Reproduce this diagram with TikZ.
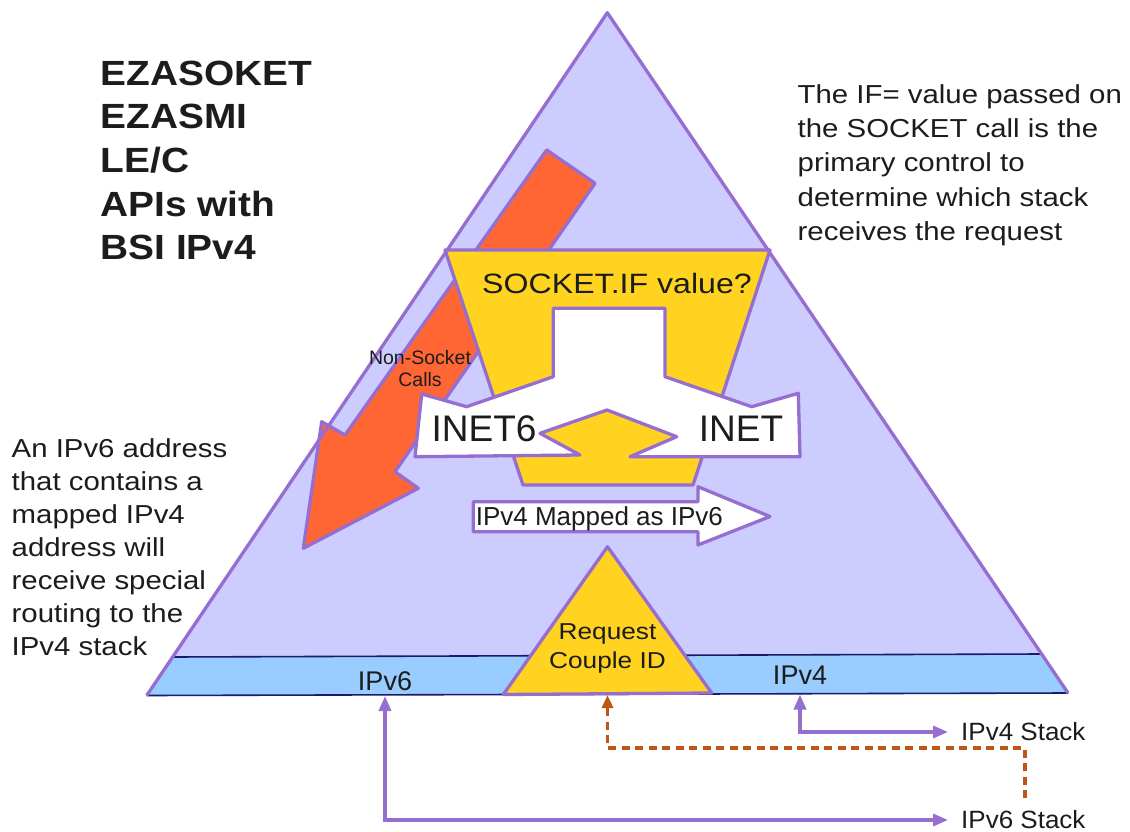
\documentclass[tikz,border=0pt]{standalone}
\usepackage{fontspec}
\setmainfont{Liberation Sans}
\usepackage{graphicx}
\usetikzlibrary{arrows.meta}
\definecolor{lav}{RGB}{204,204,255}
\definecolor{purp}{RGB}{150,110,208}
\definecolor{bandblue}{RGB}{153,204,255}
\definecolor{navy}{RGB}{25,25,110}
\definecolor{yel}{RGB}{255,211,32}
\definecolor{org}{RGB}{255,102,51}
\definecolor{brn}{RGB}{192,86,22}
\definecolor{txtdark}{RGB}{28,28,28}
\newcommand{\hs}[2]{\scalebox{#1}[1]{#2}}
\newcommand{\fs}[2]{\fontsize{#1}{#2}\selectfont}
\begin{document}
\begin{tikzpicture}[x=1pt,y=-1pt,
  outl/.style={draw=purp, line width=3.3pt, line join=round},
  txt/.style={inner sep=0pt, text=txtdark},
  conn/.style={draw=purp, line width=3.3pt, arrows={Triangle[length=15pt,width=12pt]-Triangle[length=15pt,width=12pt]}},
  dashconn/.style={draw=brn, line width=3.6pt, dash pattern=on 8pt off 5.5pt, arrows={-Triangle[length=13pt,width=11pt]}},
  bandline/.style={draw=navy, line width=1.6pt}]
\useasboundingbox (0,0) rectangle (1130,832);
\fill[white] (0,0) rectangle (1130,832);

% big triangle
\coordinate (apex) at (607.3,12.7);
\coordinate (bl) at (146.7,695.5);
\coordinate (br) at (1068,693);
\fill[lav] (apex) -- (bl) -- (br) -- cycle;

% orange arrow
\filldraw[fill=org, outl] (546.7,150) -- (595,183.3) -- (395,471.7) -- (418.3,488.3)
  -- (303.3,548.3) -- (321.7,421.7) -- (345,435) -- cycle;

% yellow trapezoid
\filldraw[fill=yel, outl] (445,250) -- (770,250) -- (693,485) -- (523,485) -- cycle;

% white split arrow
\filldraw[fill=white, outl] (553.3,308.3) -- (665,308.3) -- (665,376.7) -- (751.7,406.7)
  -- (798.3,393.3) -- (800,456.7) -- (630,456.7) -- (676.7,436.7) -- (607,410)
  -- (540,433.3) -- (580,455) -- (415,456.7) -- (421.7,394) -- (466.7,406.7)
  -- (553.3,376.7) -- cycle;

% mapped arrow
\filldraw[fill=white, outl] (473.3,501.7) -- (698,501.7) -- (698,486.7) -- (770,516.5)
  -- (698,545) -- (698,531.7) -- (473.3,531.7) -- cycle;

% band
\fill[bandblue] (bl) -- (172.3,657) -- (1041.6,654) -- (br) -- cycle;
\draw[bandline] (172.3,657) -- (1041.6,654);
\draw[bandline] (bl) -- (br);
\draw[outl] (bl) -- (apex) -- (br);

% small triangle
\filldraw[fill=yel, outl] (607.5,546.7) -- (503.3,694.5) -- (711.7,693) -- cycle;

% texts
\node[txt, anchor=north west, font=\fs{35}{43.6}\bfseries] (apis) at (100.4,54.5)
  {\hs{1.11}{\begin{tabular}{@{}l@{}}EZASOKET\\EZASMI\\LE/C\\APIs with\\BSI IPv4\end{tabular}}};
\node[txt, anchor=north west, font=\fs{26}{34.2}] (ifnote) at (797.5,79.4)
  {\hs{1.13}{\begin{tabular}{@{}l@{}}The IF= value passed on\\the SOCKET call is the\\primary control to\\determine which stack\\receives the request\end{tabular}}};
\node[txt, anchor=north west, font=\fs{26}{32.9}] (mapnote) at (11.5,434.7)
  {\hs{1.13}{\begin{tabular}{@{}l@{}}An IPv6 address\\that contains a\\mapped IPv4\\address will\\receive special\\routing to the\\IPv4 stack\end{tabular}}};
\node[txt, anchor=base, font=\fs{28}{34}] (sockif) at (617,293) {\hs{1.147}{SOCKET.IF value?}};
\node[txt, anchor=base, font=\fs{37}{44}] (inet6) at (484,441.7) {INET6};
\node[txt, anchor=base, font=\fs{37}{44}] (inet) at (741,441.7) {INET};
\node[txt, anchor=north, font=\fs{19.5}{22.7}] (nonsock) at (420,348.1)
  {\begin{tabular}{@{}c@{}}Non-Socket\\Calls\end{tabular}};
\node[txt, anchor=base west, font=\fs{26}{31}] (mapped) at (475.6,525) {IPv4 Mapped as IPv6};
\node[txt, anchor=north, font=\fs{23}{29}] (rcid) at (607.5,618.7)
  {\hs{1.14}{\begin{tabular}{@{}c@{}}Request\\Couple ID\end{tabular}}};
\node[txt, anchor=base, font=\fs{27}{32}] (v6lbl) at (385,690) {IPv6};
\node[txt, anchor=base, font=\fs{27}{32}] (v4lbl) at (800,684) {IPv4};
\node[anchor=west, inner xsep=13pt, inner ysep=0pt, text=txtdark, font=\fs{25}{30}] (v4stack) at (948,732) {\hs{1.04}{IPv4 Stack}};
\node[anchor=west, inner xsep=13pt, inner ysep=0pt, text=txtdark, font=\fs{25}{30}] (v6stack) at (948,820) {\hs{1.04}{IPv6 Stack}};

% connectors
\coordinate (v6port) at (385,696);
\coordinate (v4port) at (800,694.5);
\coordinate (rcidport) at (607.5,695);
\coordinate (dstart) at (1025,798);
\draw[conn] (v6port) |- (v6stack.west);
\draw[conn] (v4port) |- (v4stack.west);
\draw[dashconn] (dstart) -- ++(0,-50) -| (rcidport);
\end{tikzpicture}
\end{document}
